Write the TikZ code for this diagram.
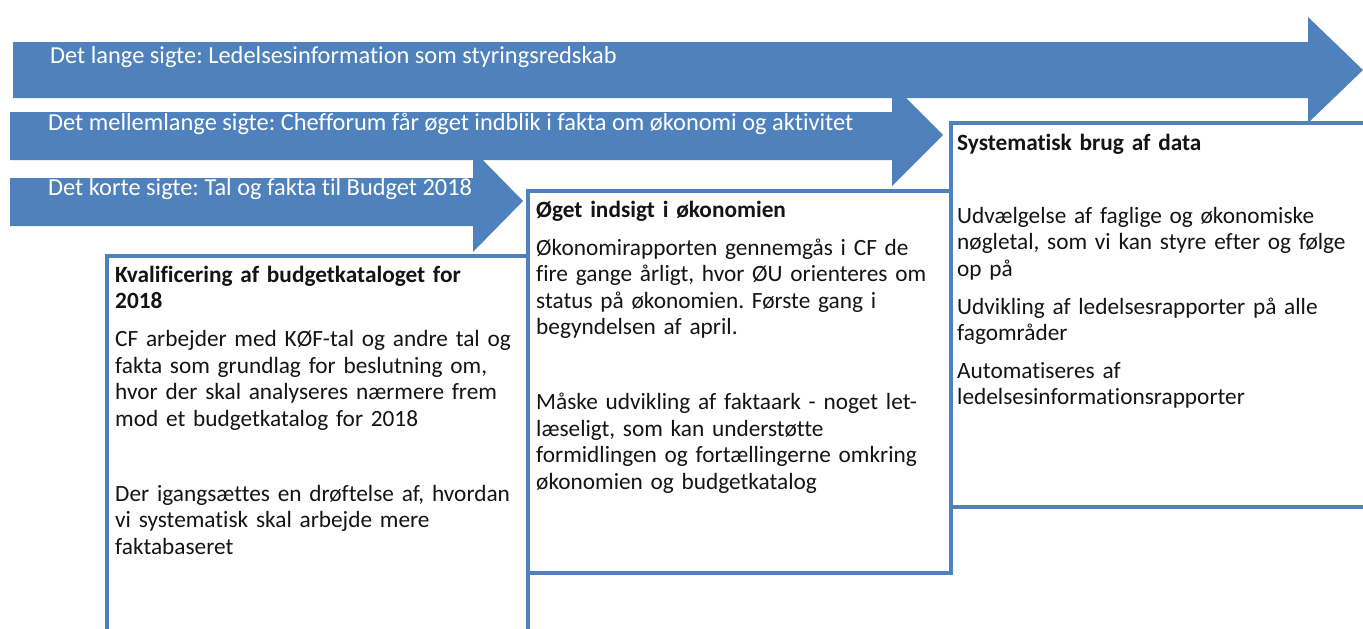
\documentclass[tikz,border=0pt]{standalone}
\usepackage{fontspec}
\setmainfont{Carlito}[Ligatures=NoCommon]
\frenchspacing
\usetikzlibrary{positioning}
\definecolor{pilblaa}{RGB}{79,129,189}
\definecolor{tekst}{RGB}{20,20,20}

\begin{document}
\begin{tikzpicture}[x=1pt,y=-1pt,
                  font=\fontsize{23.3}{26.5}\selectfont,
                  pil/.style={fill=pilblaa},
                  pilt/.style={text=white,inner sep=0pt,anchor=base west,font=\fontsize{24.4}{26}\selectfont},
                  kasse/.style={draw=pilblaa,line width=4pt,fill=white,outer sep=0pt,inner sep=0pt,anchor=north west},
                  kt/.style={text=tekst,align=left,inner sep=0pt,anchor=base west,text width=460pt}
                ]
                \useasboundingbox (0,0) rectangle (1363,629);
                \clip (0,0) rectangle (1363,629);
                % de tre sigter
                \fill[pil] (13,42) -- (1308,42) -- (1308,17) -- (1363,70) -- (1308,123) -- (1308,98) -- (13,98) -- cycle;
                \fill[pil] (10,112) -- (892,112) -- (892,84) -- (943,135) -- (892,186) -- (892,160) -- (10,160) -- cycle;
                \fill[pil] (10,178) -- (473,178) -- (473,150) -- (523,201) -- (473,252) -- (473,226) -- (10,226) -- cycle;
                \node[pilt] (lang) at (50,63) {Det lange sigte: Ledelsesinformation som styringsredskab};
                \node[pilt] (mellem) at (48,130) {Det mellemlange sigte: Chefforum får øget indblik i fakta om økonomi og aktivitet};
                \node[pilt] (kort) at (48,195) {Det korte sigte: Tal og fakta til Budget 2018};
                
                % kasser
                \node[kasse,minimum width=421pt,minimum height=460pt] (kval) at (107,256) {};
                \node[kasse,minimum width=423pt,minimum height=382pt] (indsigt) at (528,191) {};
                \node[kasse,minimum width=460pt,minimum height=384pt] (brug) at (951,123) {};
                
                \node[kt] (kvalT) at ([xshift=8pt,yshift=-26pt]kval.north west) {\textbf{Kvalificering af budgetkataloget for}\\\textbf{2018}\\[11.5pt]
                  CF arbejder med KØF-tal og andre tal og\\fakta som grundlag for beslutning om,\\hvor der skal analyseres nærmere frem\\mod et budgetkatalog for 2018\\[48.5pt]
                  Der igangsættes en drøftelse af, hvordan\\vi systematisk skal arbejde mere\\faktabaseret};
                \node[kt] (indsigtT) at ([xshift=8pt,yshift=-26pt]indsigt.north west) {\textbf{Øget indsigt i økonomien}\\[11.5pt]
                  Økonomirapporten gennemgås i CF de\\fire gange årligt, hvor ØU orienteres om\\status på økonomien. Første gang i\\begyndelsen af april.\\[48.5pt]
                  Måske udvikling af faktaark - noget let-\\læseligt, som kan understøtte\\formidlingen og fortællingerne omkring\\økonomien og budgetkatalog};
                \node[kt] (brugT) at ([xshift=6pt,yshift=-27pt]brug.north west) {\textbf{Systematisk brug af data}\\[46.5pt]
                  Udvælgelse af faglige og økonomiske\\nøgletal, som vi kan styre efter og følge\\op på\\[11.5pt]
                  Udvikling af ledelsesrapporter på alle\\fagområder\\[11pt]
                  Automatiseres af\\ledelsesinformationsrapporter};
                \end{tikzpicture}
\end{document}
